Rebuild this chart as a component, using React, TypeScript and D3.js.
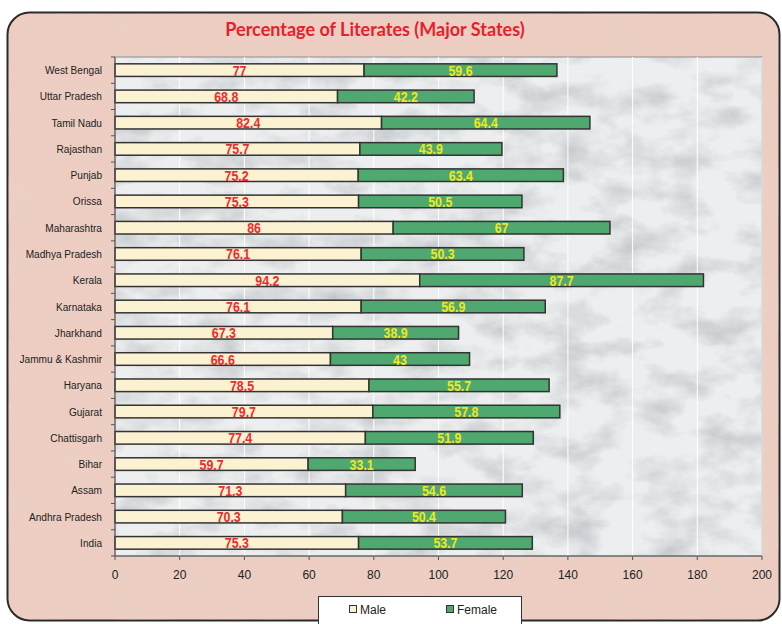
import React from 'react';
import * as d3 from 'd3';

const states = [
  'West Bengal', 'Uttar Pradesh', 'Tamil Nadu', 'Rajasthan', 'Punjab', 'Orissa',
  'Maharashtra', 'Madhya Pradesh', 'Kerala', 'Karnataka', 'Jharkhand',
  'Jammu & Kashmir', 'Haryana', 'Gujarat', 'Chattisgarh', 'Bihar', 'Assam',
  'Andhra Pradesh', 'India',
];
const male = [77, 68.8, 82.4, 75.7, 75.2, 75.3, 86, 76.1, 94.2, 76.1, 67.3, 66.6, 78.5, 79.7, 77.4, 59.7, 71.3, 70.3, 75.3];
const female = [59.6, 42.2, 64.4, 43.9, 63.4, 50.5, 67, 50.3, 87.7, 56.9, 38.9, 43, 55.7, 57.8, 51.9, 33.1, 54.6, 50.4, 53.7];
const xTicks = [0, 20, 40, 60, 80, 100, 120, 140, 160, 180, 200];

const W = 782;
const H = 624;
const plot = { left: 115, right: 762, top: 57, bottom: 556 };

const MALE_FILL = '#fbf2d2';
const FEMALE_FILL = '#4fa86f';
const sans = '"Liberation Sans", Arial, sans-serif';

// narrow look: squeeze a regular font horizontally
const Narrow = ({ cx, cy, fill, size, sx, children }: any) => (
  <g transform={`translate(${cx},${cy}) scale(${sx},1)`}>
    <text x={0} y={0} textAnchor="middle" fill={fill} style={{ font: `bold ${size}px ${sans}` }}>{children}</text>
  </g>
);

export default function App() {
  const x = d3.scaleLinear().domain([0, 200]).range([plot.left, plot.right]);
  const y = d3.scaleBand<string>()
    .domain(states)
    .range([plot.top, plot.bottom])
    .paddingInner(0.52)
    .paddingOuter(0.26);
  const step = y.step();
  const bh = y.bandwidth();

  return (
    <div style={{ position: 'absolute', left: 0, top: 0 }}>
      <svg width={W} height={H} style={{ display: 'block' }}>
        <defs>
          <filter id="pinkMarble" x="0" y="0" width="100%" height="100%">
            <feTurbulence type="fractalNoise" baseFrequency="0.02 0.03" numOctaves={4} seed={3} result="n" />
            <feColorMatrix in="n" type="matrix"
              values="0 0 0 0 0.82  0 0 0 0 0.64  0 0 0 0 0.58  0 0 0 -1.1 0.65" result="c" />
            <feComposite in="c" in2="SourceGraphic" operator="in" />
          </filter>
          <filter id="grayMarble" x="0" y="0" width="100%" height="100%">
            <feTurbulence type="fractalNoise" baseFrequency="0.02 0.035" numOctaves={5} seed={7} result="n" />
            <feColorMatrix in="n" type="matrix"
              values="0 0 0 0 0.52  0 0 0 0 0.54  0 0 0 0 0.57  0 0 0 -1.8 1.05" result="c" />
            <feComposite in="c" in2="SourceGraphic" operator="in" />
          </filter>
        </defs>

        <rect x={0} y={0} width={W} height={H} fill="#ffffff" />

        {/* outer panel */}
        <rect x={7.5} y={12.5} width={772} height={608} rx={22} fill="#edcdc1" stroke="#2a2a2a" strokeWidth={2} />
        <rect x={8.5} y={13.5} width={770} height={606} rx={21} fill="#edcdc1" filter="url(#pinkMarble)" />

        {/* title */}
        <text x={375} y={36} textAnchor="middle" fill="#e8202c"
          style={{ font: 'bold 18px Lato, "Open Sans", sans-serif' }}>
          Percentage of Literates (Major States)
        </text>

        {/* plot area */}
        <rect x={plot.left} y={plot.top} width={plot.right - plot.left} height={plot.bottom - plot.top} fill="#eceeef" />
        <rect x={plot.left} y={plot.top} width={plot.right - plot.left} height={plot.bottom - plot.top} fill="#eceeef" filter="url(#grayMarble)" />
        <rect x={plot.left} y={plot.top} width={plot.right - plot.left} height={plot.bottom - plot.top}
          fill="none" stroke="#9a9a9a" strokeWidth={1.2} />

        {/* vertical gridlines */}
        {xTicks.slice(1).map(t => (
          <line key={`g${t}`} x1={x(t)} x2={x(t)} y1={plot.top} y2={plot.bottom} stroke="#ffffff" strokeWidth={1} />
        ))}

        {/* bars */}
        {states.map((s, i) => {
          const y0 = y(s) as number;
          const tot = male[i] + female[i];
          return (
            <g key={s}>
              <rect x={x(0)} y={y0} width={x(male[i]) - x(0)} height={bh}
                fill={MALE_FILL} stroke="#333333" strokeWidth={1.5} />
              <rect x={x(male[i])} y={y0} width={x(tot) - x(male[i])} height={bh}
                fill={FEMALE_FILL} stroke="#333333" strokeWidth={1.5} />
              <Narrow cx={(x(0) + x(male[i])) / 2} cy={y0 + bh / 2 + 5.5} fill="#ee2a2e" size={15.5} sx={0.8}>
                {String(male[i])}
              </Narrow>
              <Narrow cx={(x(male[i]) + x(tot)) / 2} cy={y0 + bh / 2 + 5.5} fill="#f2e61e" size={15.5} sx={0.8}>
                {String(female[i])}
              </Narrow>
            </g>
          );
        })}

        {/* y axis */}
        <line x1={plot.left} x2={plot.left} y1={plot.top} y2={plot.bottom} stroke="#555555" strokeWidth={1} />
        {d3.range(states.length + 1).map(k => (
          <line key={`yt${k}`} x1={plot.left - 4} x2={plot.left} y1={plot.top + k * step} y2={plot.top + k * step}
            stroke="#555555" strokeWidth={1} />
        ))}
        {states.map(s => (
          <g key={`yl${s}`} transform={`translate(${plot.left - 13},${(y(s) as number) + bh / 2 + 4}) scale(0.92,1)`}>
            <text x={0} y={0} textAnchor="end" fill="#222222" style={{ font: `11px ${sans}` }}>{s}</text>
          </g>
        ))}

        {/* x axis */}
        <line x1={plot.left} x2={plot.right} y1={plot.bottom} y2={plot.bottom} stroke="#555555" strokeWidth={1} />
        {xTicks.map(t => (
          <g key={`xt${t}`}>
            <line x1={x(t)} x2={x(t)} y1={plot.bottom} y2={plot.bottom + 4} stroke="#555555" strokeWidth={1} />
            <text x={x(t)} y={plot.bottom + 23} textAnchor="middle" fill="#222222"
              style={{ font: `12px ${sans}` }}>{t}</text>
          </g>
        ))}

        {/* legend */}
        <rect x={318.5} y={596.5} width={203} height={30} fill="#ffffff" stroke="#333333" strokeWidth={1} />
        <rect x={349.5} y={605.5} width={7} height={7} fill={MALE_FILL} stroke="#333333" strokeWidth={1} />
        <text x={360} y={614} fill="#222222" style={{ font: `12px ${sans}` }}>Male</text>
        <rect x={446.5} y={605.5} width={7} height={7} fill={FEMALE_FILL} stroke="#333333" strokeWidth={1} />
        <text x={457} y={614} fill="#222222" style={{ font: `12px ${sans}` }}>Female</text>
      </svg>
    </div>
  );
}
